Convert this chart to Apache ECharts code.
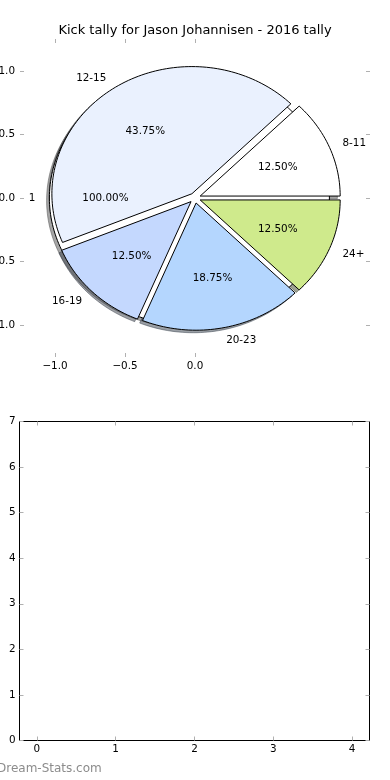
<!DOCTYPE html>
<html><head><meta charset="utf-8">
<script src="https://cdn.jsdelivr.net/npm/echarts@6/dist/echarts.min.js"></script>
<style>html,body{margin:0;padding:0;background:#fff}#c{width:390px;height:780px}</style>
</head><body><div id="c"></div>
<script>
const categories = ['8-11', '12-15', '16-19', '20-23', '24+'];
const kicks = [2, 7, 2, 3, 2];
const sliceColors = ['#ffffff', '#eaf1fe', '#c4d8fe', '#b4d6fe', '#cfea8c'];
const totalCategories = ['1'];
const totalKicks = [1];
const totalColors = ['#ffffff'];
const pieXTicks = [-1, -0.5, 0];
const pieYTicks = [-1, -0.5, 0, 0.5, 1];
const barXTicks = [0, 1, 2, 3, 4];
const titleText = 'Kick tally for Jason Johannisen - 2016 tally';
const watermark = 'Dream-Stats.com';

const EXPLODE = 0.04;
const FONT = '"DejaVu Sans", sans-serif';
const LBL = 10.4;

function wedges(vals, startDeg) {
  const total = vals.reduce((a, b) => a + b, 0);
  let a = startDeg;
  return vals.map((v, i) => { const s = a, e = a + 360 * v / total; a = e; return [s, e, 100 * v / total, i]; });
}
const mainW = wedges(kicks, 0);
const totW = wedges(totalKicks, 0);

function shade(hex) {
  const r = parseInt(hex.slice(1, 3), 16), g = parseInt(hex.slice(3, 5), 16), b = parseInt(hex.slice(5, 7), 16);
  return 'rgba(' + Math.round(r * 0.3) + ',' + Math.round(g * 0.3) + ',' + Math.round(b * 0.3) + ',0.5)';
}
function wedgePoints(api, s, e, dx, dy) {
  const full = (e - s) >= 359.999;
  const m = (s + e) / 2 * Math.PI / 180;
  const cx = EXPLODE * Math.cos(m) + dx, cy = EXPLODE * Math.sin(m) + dy;
  const pts = [];
  if (!full) pts.push(api.coord([cx, cy]));
  const n = Math.max(8, Math.ceil((e - s) / 1.5));
  for (let k = 0; k <= n; k++) {
    const a = (s + (e - s) * k / n) * Math.PI / 180;
    pts.push(api.coord([cx + Math.cos(a), cy + Math.sin(a)]));
  }
  return pts;
}
function wedgeSeries(data, colors, shadow, z) {
  return {
    type: 'custom', xAxisIndex: 0, yAxisIndex: 0, z: z, silent: true,
    data: data,
    renderItem: function (params, api) {
      const s = api.value(0), e = api.value(1), i = api.value(3);
      const col = colors[i];
      const pts = shadow ? wedgePoints(api, s, e, -0.02, -0.02) : wedgePoints(api, s, e, 0, 0);
      return {
        type: 'polygon', shape: { points: pts },
        style: shadow ? { fill: shade(col), stroke: shade(col), lineWidth: 1 } : { fill: col, stroke: '#000', lineWidth: 1, lineJoin: 'miter' }
      };
    }
  };
}
function labelSeries(data, names, z) {
  return {
    type: 'custom', xAxisIndex: 0, yAxisIndex: 0, z: z, silent: true,
    data: data,
    renderItem: function (params, api) {
      const s = api.value(0), e = api.value(1), pct = api.value(2), i = api.value(3);
      const m = (s + e) / 2 * Math.PI / 180;
      const cx = EXPLODE * Math.cos(m), cy = EXPLODE * Math.sin(m);
      const lx = cx + 1.1 * Math.cos(m), ly = cy + 1.1 * Math.sin(m);
      const px = cx + 0.6 * Math.cos(m), py = cy + 0.6 * Math.sin(m);
      const lp = api.coord([lx, ly]), pp = api.coord([px, py]);
      return {
        type: 'group', children: [
          { type: 'text', x: lp[0], y: lp[1] + 0.5, style: { text: names[i], fill: '#000', font: LBL + 'px ' + FONT, align: lx > 0 ? 'left' : 'right', verticalAlign: 'middle' } },
          { type: 'text', x: pp[0], y: pp[1] + 0.5, style: { text: pct.toFixed(2) + '%', fill: '#000', font: LBL + 'px ' + FONT, align: 'center', verticalAlign: 'middle' } }
        ]
      };
    }
  };
}
const minus = v => (v < 0 ? '\u2212' : '') + Math.abs(v).toFixed(1);
const noLine = { show: false, onZero: false };
const tickStyle = { show: true, inside: true, length: 4, lineStyle: { color: '#b0b0b0', width: 1 } };
const lblStyle = { color: '#000', fontSize: LBL, fontFamily: FONT };

const chart = echarts.init(document.getElementById('c'), null, { renderer: 'canvas' });
chart.setOption({
  animation: false,
  backgroundColor: '#fff',
  title: { text: titleText, left: 'center', top: 24, padding: 0, textStyle: { fontSize: 13, fontWeight: 'normal', fontFamily: FONT, color: '#000' } },
  graphic: [{ type: 'text', left: -3, top: 763, style: { text: watermark, fill: '#8c8c8c', font: '12px ' + FONT } }],
  grid: [
    { left: 20, top: 39, width: 350, height: 318, containLabel: false, outerBoundsMode: 'none' },
    { left: 19.5, top: 421.5, width: 350, height: 319, containLabel: false, outerBoundsMode: 'none', show: true, borderColor: '#000', borderWidth: 1, backgroundColor: 'transparent' }
  ],
  xAxis: [
    { gridIndex: 0, type: 'value', min: -1.25, max: 1.25, position: 'bottom', axisLine: noLine, splitLine: { show: false },
      axisTick: Object.assign({ customValues: pieXTicks }, tickStyle), axisLabel: Object.assign({ customValues: pieXTicks, formatter: minus, margin: 4 }, lblStyle) },
    { gridIndex: 0, type: 'value', min: -1.25, max: 1.25, position: 'top', axisLine: noLine, splitLine: { show: false },
      axisTick: Object.assign({ customValues: pieXTicks }, tickStyle), axisLabel: { show: false } },
    { gridIndex: 1, type: 'value', min: -0.22, max: 4.22, position: 'bottom', axisLine: noLine, splitLine: { show: false },
      axisTick: Object.assign({ customValues: barXTicks }, tickStyle), axisLabel: Object.assign({ customValues: barXTicks, margin: 4 }, lblStyle) },
    { gridIndex: 1, type: 'value', min: -0.22, max: 4.22, position: 'top', axisLine: noLine, splitLine: { show: false },
      axisTick: Object.assign({ customValues: barXTicks }, tickStyle), axisLabel: { show: false } }
  ],
  yAxis: [
    { gridIndex: 0, type: 'value', min: -1.25, max: 1.25, position: 'left', axisLine: noLine, splitLine: { show: false },
      axisTick: Object.assign({ customValues: pieYTicks }, tickStyle), axisLabel: Object.assign({ customValues: pieYTicks, formatter: minus, margin: 5 }, lblStyle) },
    { gridIndex: 0, type: 'value', min: -1.25, max: 1.25, position: 'right', axisLine: noLine, splitLine: { show: false },
      axisTick: Object.assign({ customValues: pieYTicks }, tickStyle), axisLabel: { show: false } },
    { gridIndex: 1, type: 'value', min: 0, max: 7, interval: 1, position: 'left', axisLine: noLine, splitLine: { show: false },
      axisTick: tickStyle, axisLabel: Object.assign({ margin: 4 }, lblStyle) },
    { gridIndex: 1, type: 'value', min: 0, max: 7, interval: 1, position: 'right', axisLine: noLine, splitLine: { show: false },
      axisTick: tickStyle, axisLabel: { show: false } }
  ],
  series: [
    wedgeSeries(totW, totalColors, true, 1),
    wedgeSeries(mainW, sliceColors, true, 1),
    wedgeSeries(totW, totalColors, false, 2),
    wedgeSeries(mainW, sliceColors, false, 3),
    labelSeries(totW, totalCategories, 4),
    labelSeries(mainW, categories, 4)
  ]
});
</script></body></html>
